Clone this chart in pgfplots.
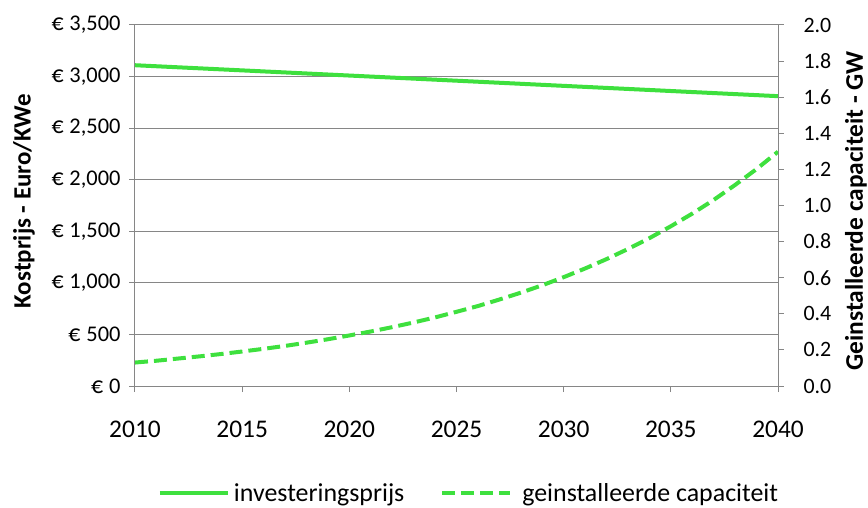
\documentclass[border=0pt]{standalone}
\usepackage{pgfplots}
\pgfplotsset{compat=1.18}
\usepackage{fontspec}
\setmainfont{Carlito}
\definecolor{lgreen}{RGB}{62,224,62}
\definecolor{axgray}{RGB}{134,134,134}
\newcommand{\eur}[1]{{\fontsize{24}{24}\selectfont €}\hspace{0.26em}#1}
\begin{document}
\begin{tikzpicture}
\begin{axis}[
  name=ax,
  scale only axis, width=643bp, height=361bp,
  xmin=2010, xmax=2040, ymin=0, ymax=3500,
  axis y line*=left, axis x line*=bottom,
  xtick={2010,2015,...,2040},
  xticklabels={2010,2015,2020,2025,2030,2035,2040},
  ytick={0,500,...,3500},
  yticklabels={\eur{0},\eur{500},{\eur{1,000}},{\eur{1,500}},{\eur{2,000}},{\eur{2,500}},{\eur{3,000}},{\eur{3,500}}},
  ymajorgrids, grid style={axgray, line width=1bp},
  axis line style={axgray, line width=1bp, -},
  tick style={axgray, line width=1bp},
  tick align=outside, major tick length=6bp,
  x tick label style={font=\fontsize{25.5}{25.5}\selectfont, yshift=-25bp},
  y tick label style={font=\fontsize{22.5}{22.5}\selectfont, xshift=-5bp},
  ylabel={\textbf{Kostprijs - Euro/KWe}},
  ylabel style={font=\fontsize{25}{25}\selectfont, at={(rel axis cs:-0.1726,0.512)}, anchor=center},
  clip=false,
]
\addplot[lgreen, line width=4bp] coordinates {
 (2010,3110) (2015,3060) (2020,3010) (2025,2960) (2030,2910) (2035,2860) (2040,2810)};
\end{axis}
\begin{axis}[
  scale only axis, width=643bp, height=361bp,
  xmin=2010, xmax=2040, ymin=0, ymax=2,
  axis y line*=right, axis x line=none,
  ytick={0,0.2,...,2.0},
  yticklabels={0.0,0.2,0.4,0.6,0.8,1.0,1.2,1.4,1.6,1.8,2.0},
  axis line style={axgray, line width=1bp, -},
  tick style={axgray, line width=1bp},
  tick align=outside, major tick length=6bp,
  y tick label style={font=\fontsize{22}{22}\selectfont, xshift=16bp},
  ylabel={\textbf{Geinstalleerde capaciteit - GW}},
  ylabel style={font=\fontsize{25.5}{25.5}\selectfont, at={(rel axis cs:1.1213,0.485)}, anchor=center},
  legend style={at={(0.521,-0.296)}, anchor=center, draw=none,
    font=\fontsize{26}{26}\selectfont, column sep=0bp,
    nodes={inner xsep=4bp}},
  legend columns=2,
  legend image code/.code={\draw[#1] (0bp,0bp) -- (68bp,0bp);},
]
\addlegendimage{lgreen, line width=4bp}
\addlegendentry{investeringsprijs\kern32bp}
\addplot[lgreen, line width=4bp, dash pattern=on 13bp off 6bp] coordinates {
 (2010,0.130) (2011,0.140) (2012,0.152) (2013,0.164) (2014,0.177) (2015,0.191)
 (2016,0.206) (2017,0.222) (2018,0.240) (2019,0.259) (2020,0.280) (2021,0.302)
 (2022,0.326) (2023,0.352) (2024,0.380) (2025,0.411) (2026,0.443) (2027,0.479)
 (2028,0.517) (2029,0.558) (2030,0.603) (2031,0.651) (2032,0.703) (2033,0.759)
 (2034,0.819) (2035,0.885) (2036,0.955) (2037,1.031) (2038,1.114) (2039,1.202)
 (2040,1.298)};
\addlegendentry{\kern6bp geinstalleerde capaciteit}
\end{axis}
\pgfresetboundingbox
\useasboundingbox (ax.south west) ++(-135bp,-122bp) rectangle ++(868bp,508bp);
\end{tikzpicture}
\end{document}
